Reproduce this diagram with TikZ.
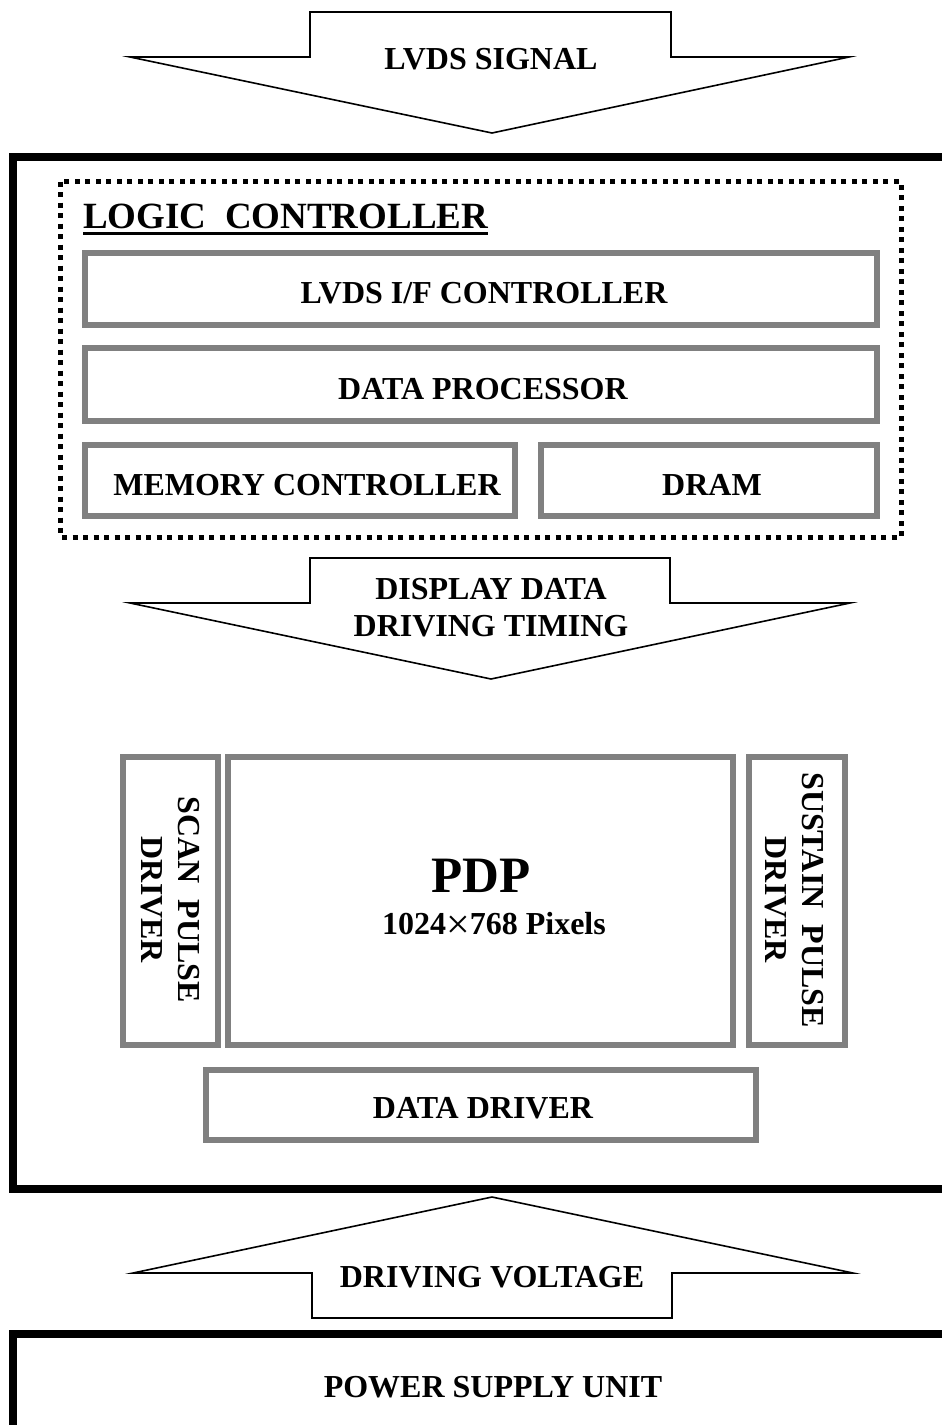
\documentclass[tikz,border=0pt]{standalone}
\usepackage{fontspec}
\setmainfont{Liberation Serif}
\definecolor{boxgray}{RGB}{128,128,128}
\newcommand{\bigtimes}{{\mdseries\fontsize{42}{42}\selectfont\raisebox{-4pt}{×}}}
\begin{document}
\begin{tikzpicture}[x=1pt,y=-1pt,
  txt/.style={font=\bfseries\fontsize{32}{37}\selectfont, inner sep=0pt, align=center},
  bigtxt/.style={font=\bfseries\fontsize{51}{58}\selectfont, inner sep=0pt},
  lctxt/.style={font=\bfseries\fontsize{37}{42}\selectfont, inner sep=0pt},
  graybox/.style={draw=boxgray, line width=6pt, inner sep=0pt},
  blockarrow/.style={draw=black, line width=1.6pt, line join=miter, fill=white},
  frame/.style={draw=black, line width=8pt},
  dotbox/.style={draw=black, line width=5pt, dash pattern=on 5pt off 5.5pt}]
\useasboundingbox (0,0) rectangle (942,1425);
\begin{scope}
\clip (0,0) rectangle (942,1425);
\draw[frame] (13,156.5) rectangle (970,1189);
\draw[frame] (13,1334) rectangle (970,1450);
\end{scope}

% top arrow
\draw[blockarrow] (310,12) -- (671,12) -- (671,57) -- (849,57) -- (492,133) -- (130,57) -- (310,57) -- cycle;
\node[txt] (lvdssig) at (491,59.5) {LVDS SIGNAL};

% logic controller
\draw[dotbox] (60.5,181.5) rectangle (901,537);
\node[lctxt, anchor=base west] (lc) at (83,228) {LOGIC\ \ CONTROLLER};
\draw[line width=3pt] ([yshift=-5.5pt]lc.base west) -- ([yshift=-5.5pt]lc.base east);

\node[graybox, minimum width=792pt, minimum height=72pt] (lvdsif) at (481,288.5) {};
\node[txt] (lvdsiftxt) at (484,293.5) {LVDS I/F CONTROLLER};
\node[graybox, minimum width=792pt, minimum height=72.5pt] (dp) at (481,384.25) {};
\node[txt] (dptxt) at (483,389) {DATA PROCESSOR};
\node[graybox, minimum width=430pt, minimum height=71.5pt] (mc) at (300,480.25) {};
\node[txt] (mctxt) at (307,485) {MEMORY CONTROLLER};
\node[graybox, minimum width=336pt, minimum height=71.5pt] (dram) at (708.5,480.25) {};
\node[txt] (dramtxt) at (712,485) {DRAM};

% middle arrow
\draw[blockarrow] (310,558) -- (670,558) -- (670,603) -- (850,603) -- (491,679) -- (130,603) -- (310,603) -- cycle;
\node[txt] (ddt) at (491,607.75) {DISPLAY DATA\\DRIVING TIMING};

% panel
\node[graybox, minimum width=95pt, minimum height=288pt] (scan) at (170.5,901) {};
\node[txt, rotate=-90] (scantxt) at (170,900) {SCAN\ \ PULSE\\DRIVER};
\node[graybox, minimum width=505pt, minimum height=288pt] (pdp) at (480.5,901) {};
\node[bigtxt] (pdptxt) at (481,876) {PDP};
\node[txt, anchor=base] (pixtxt) at (494,934) {1024\bigtimes768 Pixels};
\node[graybox, minimum width=96pt, minimum height=288pt] (sus) at (797,901) {};
\node[txt, rotate=-90] (sustxt) at (794,900) {SUSTAIN\ \ PULSE\\DRIVER};
\node[graybox, minimum width=550pt, minimum height=70pt] (dd) at (481,1105) {};
\node[txt] (ddtxt) at (483,1108) {DATA DRIVER};

% bottom arrow
\draw[blockarrow] (492,1197) -- (853,1273) -- (672,1273) -- (672,1318) -- (312,1318) -- (312,1273) -- (133,1273) -- cycle;
\node[txt] (dv) at (492,1277) {DRIVING VOLTAGE};

% power supply
\node[txt] (psu) at (493,1387.5) {POWER SUPPLY UNIT};
\end{tikzpicture}
\end{document}
